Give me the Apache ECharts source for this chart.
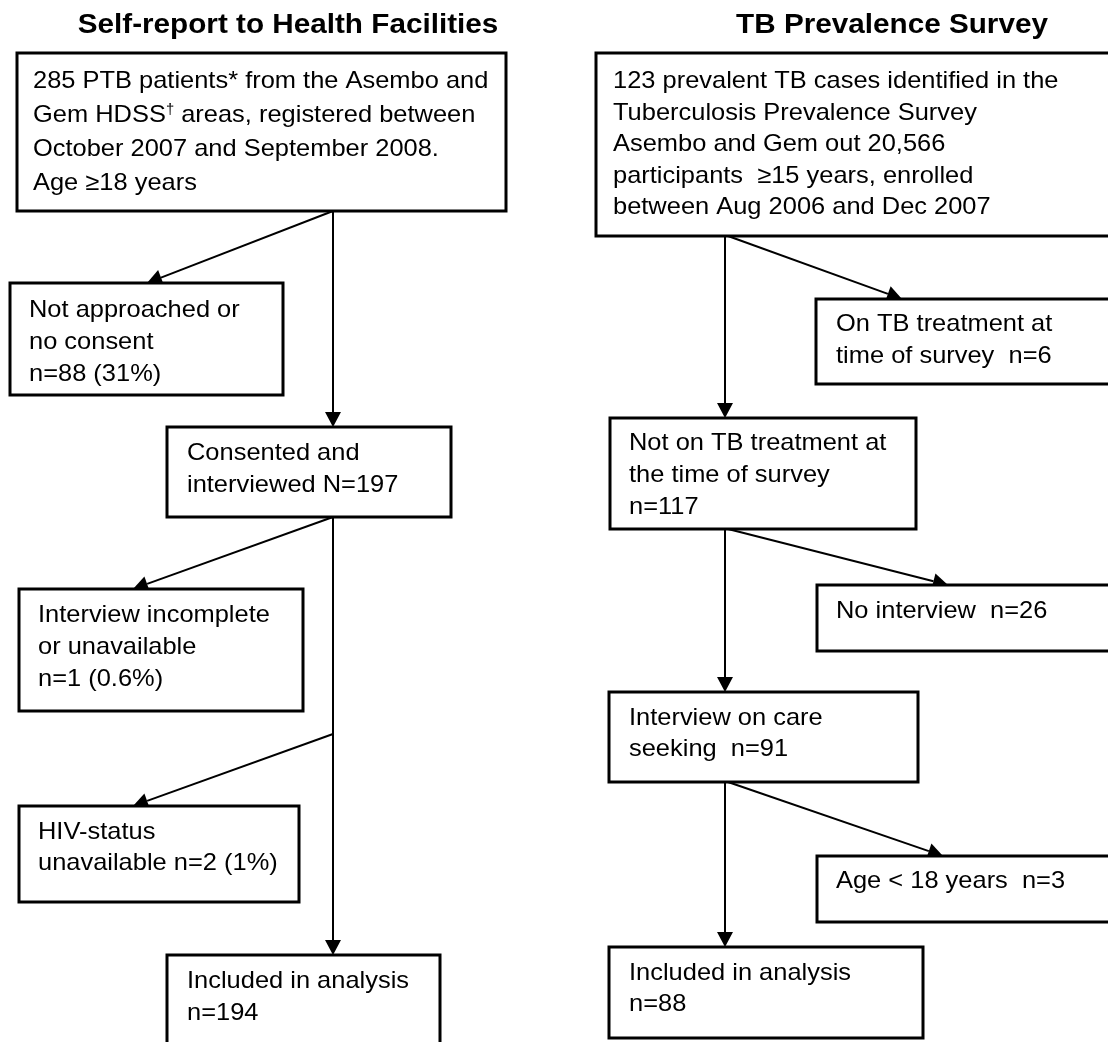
<!DOCTYPE html>
<html>
<head>
<meta charset="utf-8">
<title>Flow of participants</title>
<style>
  html, body { margin: 0; padding: 0; background: #fff; }
  #chart { width: 1108px; height: 1042px; }
</style>
<script src="https://cdn.jsdelivr.net/npm/echarts@6/dist/echarts.min.js"></script>
</head>
<body>
<div id="chart"></div>
<script>
// column headings
const titles = ['Self-report to Health Facilities', 'TB Prevalence Survey'];

// box contents: left flow (health facilities)
const leftBoxes = [
  ['285 PTB patients* from the Asembo and', 'Gem HDSS{sup|†} areas, registered between', 'October 2007 and September 2008.', 'Age ≥18 years'],
  ['Not approached or', 'no consent', 'n=88 (31%)'],
  ['Consented and', 'interviewed N=197'],
  ['Interview incomplete', 'or unavailable', 'n=1 (0.6%)'],
  ['HIV-status', 'unavailable n=2 (1%)'],
  ['Included in analysis', 'n=194']
];

// box contents: right flow (prevalence survey)
const rightBoxes = [
  ['123 prevalent TB cases identified in the', 'Tuberculosis Prevalence Survey', 'Asembo and Gem out 20,566', 'participants  ≥15 years, enrolled', 'between Aug 2006 and Dec 2007'],
  ['On TB treatment at', 'time of survey  n=6'],
  ['Not on TB treatment at', 'the time of survey', 'n=117'],
  ['No interview  n=26'],
  ['Interview on care', 'seeking  n=91'],
  ['Age < 18 years  n=3'],
  ['Included in analysis', 'n=88']
];

// layout (page units): [x0, y0, x1, y1, textX, firstBaseline, lineHeight]
const boxFrames = [
  [17, 53, 506, 211, 33, 90, 34],
  [10, 283, 283, 395, 29, 319, 32],
  [167, 427, 451, 517, 187, 462, 32],
  [19, 589, 303, 711, 38, 624, 32],
  [19, 806, 299, 902, 38, 841, 31],
  [167, 955, 440, 1070, 187, 990, 32],
  [596, 53, 1130, 236, 613, 90, 31.5],
  [816, 299, 1130, 384, 836, 333, 32],
  [610, 418, 916, 529, 629, 452, 32],
  [817, 585, 1130, 651, 836, 620, 32],
  [609, 692, 918, 782, 629, 727, 31],
  [817, 856, 1130, 922, 836, 890, 32],
  [609, 947, 923, 1038, 629, 982, 31]
];

// arrows: [fromX, fromY, tipX, tipY]
const links = [
  [333, 211, 147, 283],
  [333, 211, 333, 427],
  [333, 517, 133, 589],
  [333, 517, 333, 955],
  [333, 734, 133, 806],
  [725, 236, 725, 418],
  [728, 236, 902, 299],
  [725, 529, 725, 692],
  [728, 529, 948, 585],
  [725, 782, 725, 947],
  [728, 782, 943, 856]
];

// heading anchors: [centerX, baseline]
const titleAnchors = [[288, 35], [892, 35]];

const FONT = "'Liberation Sans', Arial, Helvetica, sans-serif";
const BODY = 24;
const HEAD = 28;
const STRETCH = 1.06;

const allBoxes = leftBoxes.concat(rightBoxes);

const chart = echarts.init(document.getElementById('chart'));

function renderLink(params, api) {
  const a = api.coord([api.value(0), api.value(1)]);
  const b = api.coord([api.value(2), api.value(3)]);
  const dx = b[0] - a[0], dy = b[1] - a[1];
  const len = Math.sqrt(dx * dx + dy * dy);
  const ux = dx / len, uy = dy / len;
  const head = 15, half = 8;
  const bx = b[0] - ux * head, by = b[1] - uy * head;
  return {
    type: 'group',
    children: [
      {
        type: 'line',
        shape: { x1: a[0], y1: a[1], x2: bx, y2: by },
        style: { stroke: '#000', lineWidth: 2 }
      },
      {
        type: 'polygon',
        shape: { points: [[b[0], b[1]], [bx - uy * half, by + ux * half], [bx + uy * half, by - ux * half]] },
        style: { fill: '#000' }
      }
    ]
  };
}

function renderBox(params, api) {
  const i = api.value(2);
  const f = boxFrames[i];
  const p0 = api.coord([f[0], f[1]]);
  const p1 = api.coord([f[2], f[3]]);
  const t = api.coord([f[4], f[5]]);
  const lh = f[6];
  return {
    type: 'group',
    children: [
      {
        type: 'rect',
        shape: { x: p0[0], y: p0[1], width: p1[0] - p0[0], height: p1[1] - p0[1] },
        style: { fill: '#fff', stroke: '#000', lineWidth: 3 }
      },
      {
        type: 'text',
        x: t[0],
        y: t[1] - (lh / 2 + 0.3465 * BODY),
        scaleX: STRETCH,
        style: {
          text: allBoxes[i].join('\n'),
          fontFamily: FONT,
          fontSize: BODY,
          lineHeight: lh,
          fill: '#000',
          align: 'left',
          verticalAlign: 'top',
          rich: {
            sup: { fontFamily: FONT, fontSize: 14, lineHeight: lh, fill: '#000', verticalAlign: 'top', padding: [4, 0, 0, 0] }
          }
        }
      }
    ]
  };
}

function renderTitle(params, api) {
  const i = api.value(2);
  const p = api.coord([api.value(0), api.value(1)]);
  return {
    type: 'text',
    x: p[0],
    y: p[1] - (HEAD / 2 + 0.3465 * HEAD),
    scaleX: STRETCH,
    style: {
      text: titles[i],
      fontFamily: FONT,
      fontSize: HEAD,
      fontWeight: 'bold',
      lineHeight: HEAD,
      fill: '#000',
      align: 'center',
      verticalAlign: 'top'
    }
  };
}

chart.setOption({
  backgroundColor: '#fff',
  animation: false,
  grid: { left: 0, right: 0, top: 0, bottom: 0 },
  xAxis: { type: 'value', min: 0, max: 1108, show: false },
  yAxis: { type: 'value', min: 0, max: 1042, inverse: true, show: false },
  series: [
    {
      type: 'custom',
      name: 'arrows',
      clip: false,
      renderItem: renderLink,
      data: links
    },
    {
      type: 'custom',
      name: 'boxes',
      clip: false,
      renderItem: renderBox,
      data: boxFrames.map((f, i) => [f[0], f[1], i])
    },
    {
      type: 'custom',
      name: 'titles',
      clip: false,
      renderItem: renderTitle,
      data: titleAnchors.map((p, i) => [p[0], p[1], i])
    }
  ]
});
</script>
</body>
</html>
